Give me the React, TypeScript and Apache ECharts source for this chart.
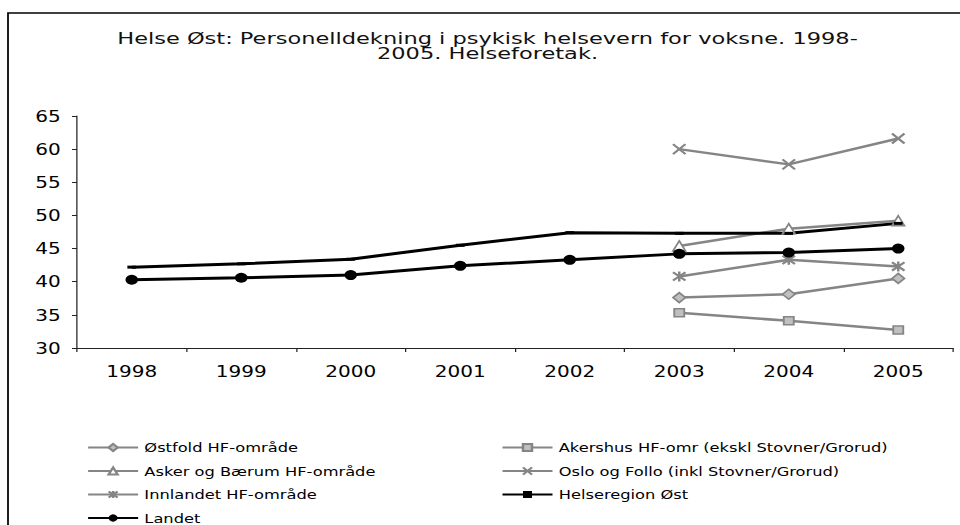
import React, { useEffect, useRef } from "react";
import * as echarts from "echarts";

// Years on the category axis
const years = ["1998", "1999", "2000", "2001", "2002", "2003", "2004", "2005"];

// Personnel coverage per health trust area (null where no figure exists)
const ostfold = [null, null, null, null, null, 37.6, 38.1, 40.5];
const akershus = [null, null, null, null, null, 35.3, 34.1, 32.7];
const askerBaerum = [null, null, null, null, null, 45.4, 48.0, 49.2];
const osloFollo = [null, null, null, null, null, 60.0, 57.7, 61.6];
const innlandet = [null, null, null, null, null, 40.8, 43.3, 42.3];
const helseregionOst = [42.2, 42.7, 43.4, 45.5, 47.4, 47.3, 47.3, 48.8];
const landet = [40.3, 40.6, 41.0, 42.4, 43.3, 44.2, 44.4, 45.0];

const seriesNames = [
  "Østfold HF-område",
  "Akershus HF-omr (ekskl Stovner/Grorud)",
  "Asker og Bærum HF-område",
  "Oslo og Follo (inkl Stovner/Grorud)",
  "Innlandet HF-område",
  "Helseregion Øst",
  "Landet",
];

const titleText =
  "Helse Øst: Personelldekning i psykisk helsevern for voksne. 1998-\n2005. Helseforetak.";

// The drawing is laid out on a narrower canvas and widened horizontally.
const STRETCH = 1.25;
const W = 960 / STRETCH;
const H = 525;

const FONT = "DejaVu Sans";
const GREY = "#858585";
const GREY_FILL = "#c0c0c0";
const BLACK = "#000000";

const crossPath = "path://M0,0L10,10M10,0L0,10";
const starPath = "path://M0,0L10,10M10,0L0,10M5,-1L5,11";

export default function App() {
  const ref = useRef<HTMLDivElement>(null);

  useEffect(() => {
    if (!ref.current) return;
    const chart = echarts.init(ref.current, null, { renderer: "svg" });

    const greySeries = (
      name: string,
      data: (number | null)[],
      symbol: string,
      symbolSize: number | number[],
      fill: string,
      borderWidth: number
    ) => ({
      name,
      type: "line",
      data,
      symbol,
      symbolSize,
      showSymbol: true,
      connectNulls: false,
      lineStyle: { color: GREY, width: 2.5 },
      itemStyle: { color: fill, borderColor: GREY, borderWidth },
    });

    const legendBase = {
      orient: "vertical",
      top: 441,
      height: 120,
      itemWidth: 40,
      itemHeight: 9,
      itemGap: 10.5,
      padding: 0,
      textStyle: {
        fontFamily: FONT,
        fontSize: 13,
        color: "#000",
        lineHeight: 12,
      },
    };

    const option: any = {
      animation: false,
      backgroundColor: "#ffffff",
      graphic: [
        {
          type: "rect",
          shape: { x: 6.4, y: 13, width: 900, height: 600 },
          style: { fill: "none", stroke: BLACK, lineWidth: 1.4 },
          silent: true,
        },
        {
          type: "text",
          x: 390,
          y: 31,
          scaleX: 1.2,
          style: {
            text: titleText,
            font: `15px "${FONT}"`,
            fill: "#111",
            align: "center",
            verticalAlign: "top",
            lineHeight: 15.5,
          },
        },
      ],
      grid: {
        left: 61.6,
        right: 5.6,
        top: 116,
        bottom: H - 348,
        containLabel: false,
      },
      xAxis: {
        type: "category",
        data: years,
        boundaryGap: true,
        axisLine: { lineStyle: { color: "#222", width: 1 } },
        axisTick: { show: true, length: 4, lineStyle: { color: "#222" } },
        axisLabel: {
          color: "#000",
          fontFamily: FONT,
          fontSize: 16,
          margin: 15,
        },
        splitLine: { show: false },
      },
      yAxis: {
        type: "value",
        min: 30,
        max: 65,
        interval: 5,
        axisLine: { show: true, lineStyle: { color: "#222", width: 1 } },
        axisTick: { show: true, length: 4, lineStyle: { color: "#222" } },
        axisLabel: {
          color: "#000",
          fontFamily: FONT,
          fontSize: 16,
          margin: 13,
        },
        splitLine: { show: false },
      },
      legend: [
        {
          ...legendBase,
          left: 69.5,
          data: [seriesNames[0], seriesNames[2], seriesNames[4], seriesNames[6]],
        },
        {
          ...legendBase,
          left: 401,
          data: [seriesNames[1], seriesNames[3], seriesNames[5]],
        },
      ],
      series: [
        greySeries(seriesNames[0], ostfold, "diamond", 10, GREY_FILL, 1.5),
        greySeries(seriesNames[1], akershus, "rect", 8, GREY_FILL, 1.5),
        greySeries(seriesNames[2], askerBaerum, "triangle", 10, "#ffffff", 1.5),
        greySeries(seriesNames[3], osloFollo, crossPath, 10, GREY, 2),
        greySeries(seriesNames[4], innlandet, starPath, 10, GREY, 2),
        {
          name: seriesNames[5],
          type: "line",
          data: helseregionOst,
          symbol: "rect",
          symbolSize: [7, 3],
          showSymbol: true,
          lineStyle: { color: BLACK, width: 3 },
          itemStyle: { color: BLACK, borderWidth: 0 },
        },
        {
          name: seriesNames[6],
          type: "line",
          data: landet,
          symbol: "circle",
          symbolSize: 10,
          showSymbol: true,
          lineStyle: { color: BLACK, width: 3 },
          itemStyle: { color: BLACK, borderWidth: 0 },
        },
      ],
    };

    chart.setOption(option);
    return () => chart.dispose();
  }, []);

  return (
    <div
      style={{
        position: "fixed",
        left: 0,
        top: 0,
        width: 960,
        height: H,
        background: "#fff",
        overflow: "hidden",
      }}
    >
      <div
        ref={ref}
        style={{
          width: W,
          height: H,
          transform: `scaleX(${STRETCH})`,
          transformOrigin: "0 0",
        }}
      />
    </div>
  );
}
